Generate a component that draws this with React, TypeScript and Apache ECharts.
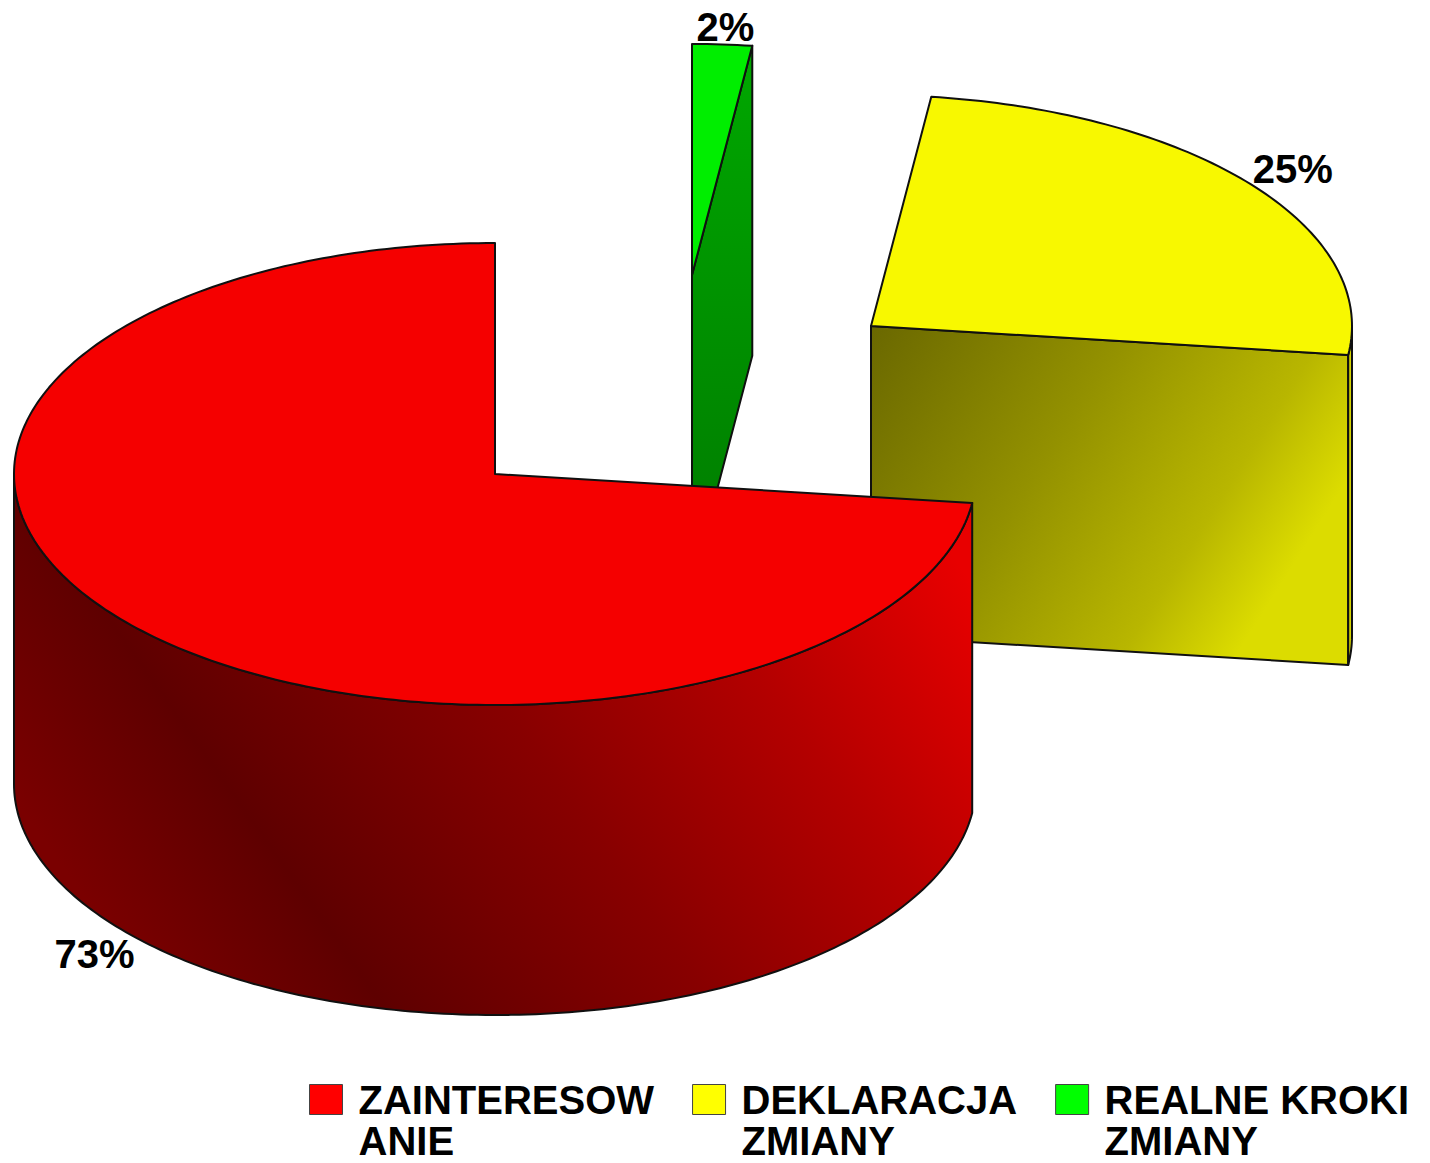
import React, { useEffect, useRef } from 'react';
import * as echarts from 'echarts';

// ---- data ----
const categories = ['ZAINTERESOWANIE', 'DEKLARACJA ZMIANY', 'REALNE KROKI ZMIANY'];
const legendLabels = ['ZAINTERESOW\nANIE', 'DEKLARACJA\nZMIANY', 'REALNE KROKI\nZMIANY'];
const values = [73, 25, 2];
const baseColors = ['#ff0000', '#ffff00', '#00ff00'];

// ---- layout / style constants ----
const CX = 495;
const CY = 474;
const RX = 481;
const RY = 231;
const DEPTH = 310;
const EXPLODE: number[][] = [[0, 0], [376, -148], [197, -199]];
const LABEL_K = 1.11;
const LABEL_MIN_Y = 27;
const FONT_FAMILY = '"Liberation Sans", Arial, Helvetica, sans-serif';
const STROKE = '#101010';
const LINE_W = 2;

const faceStyles: any[] = [
  {
    top: '#f50000',
    side: {
      type: 'linear', x: 0, y: 0.6, x2: 1, y2: 0.2,
      colorStops: [
        { offset: 0, color: '#7a0000' },
        { offset: 0.2, color: '#5e0000' },
        { offset: 0.5, color: '#880000' },
        { offset: 0.75, color: '#b40000' },
        { offset: 1, color: '#e80000' },
      ],
    },
    radial: '#b00000',
  },
  {
    top: '#f8f800',
    side: '#d4d400',
    radial: {
      type: 'linear', x: 0, y: 0, x2: 1, y2: 0.45,
      colorStops: [
        { offset: 0, color: '#6a6800' },
        { offset: 0.45, color: '#939100' },
        { offset: 0.8, color: '#b8b600' },
        { offset: 1, color: '#dcdc00' },
      ],
    },
  },
  {
    top: '#00ee00',
    side: '#009000',
    radial: {
      type: 'linear', x: 0, y: 0, x2: 0, y2: 1,
      colorStops: [
        { offset: 0, color: '#00a800' },
        { offset: 1, color: '#007a00' },
      ],
    },
  },
];

const rad = (d: number) => (d * Math.PI) / 180;

function makeRenderItem(i: number) {
  return (params: any, api: any) => {
    const total = values.reduce((a, b) => a + b, 0);
    let cum = 0;
    for (let k = 0; k < i; k++) cum += values[k];
    const v = api.value(0);
    const a0 = 90 + (cum / total) * 360;
    const a1 = a0 + (v / total) * 360;
    const ax = CX + EXPLODE[i][0];
    const ay = CY + EXPLODE[i][1];
    const P = (deg: number, dy = 0) => [ax + RX * Math.cos(rad(deg)), ay - RY * Math.sin(rad(deg)) + dy];
    const arc = (from: number, to: number, dy = 0) => {
      const n = Math.max(2, Math.ceil(Math.abs(to - from)));
      const pts: number[][] = [];
      for (let j = 0; j <= n; j++) pts.push(P(from + ((to - from) * j) / n, dy));
      return pts;
    };
    const st = faceStyles[i];
    const lineStyle = { stroke: STROKE, lineWidth: LINE_W, lineJoin: 'round' };
    const children: any[] = [];

    // radial face at start / end angle (only when facing viewer)
    if (Math.cos(rad(a0)) > 1e-3) {
      const p = P(a0);
      children.push({
        type: 'polygon',
        shape: { points: [[ax, ay], p, [p[0], p[1] + DEPTH], [ax, ay + DEPTH]] },
        style: { fill: st.radial, ...lineStyle },
      });
    }
    if (Math.cos(rad(a1)) < -1e-3) {
      const p = P(a1);
      children.push({
        type: 'polygon',
        shape: { points: [[ax, ay], p, [p[0], p[1] + DEPTH], [ax, ay + DEPTH]] },
        style: { fill: st.radial, ...lineStyle },
      });
    }
    // outer curved side (front half only)
    for (const k of [0, 360]) {
      const b0 = Math.max(a0, 180 + k);
      const b1 = Math.min(a1, 360 + k);
      if (b1 > b0 + 1e-6) {
        children.push({
          type: 'polygon',
          shape: { points: [...arc(b0, b1), ...arc(b1, b0, DEPTH)] },
          style: { fill: st.side, ...lineStyle },
        });
      }
    }
    // top face
    children.push({
      type: 'polygon',
      shape: { points: [[ax, ay], ...arc(a0, a1)] },
      style: { fill: st.top, ...lineStyle },
    });
    // label
    const mid = (a0 + a1) / 2;
    const front = Math.sin(rad(mid)) < 0;
    const lx = ax + RX * LABEL_K * Math.cos(rad(mid));
    const ly = Math.max(LABEL_MIN_Y, ay - RY * LABEL_K * Math.sin(rad(mid)) + (front ? DEPTH : 0));
    children.push({
      type: 'text',
      z2: 100,
      style: {
        text: Math.round((v / total) * 100) + '%',
        x: lx,
        y: ly,
        fill: '#000',
        fontSize: 40,
        fontWeight: 'bold',
        fontFamily: FONT_FAMILY,
        align: 'center',
        verticalAlign: 'middle',
      },
    });
    return { type: 'group', children };
  };
}

export default function App() {
  const ref = useRef<HTMLDivElement>(null);
  useEffect(() => {
    if (!ref.current) return;
    const chart = echarts.init(ref.current, null, { renderer: 'svg' });
    const order = [2, 1, 0]; // back to front
    const series = order.map((i) => ({
      type: 'custom',
      name: categories[i],
      coordinateSystem: 'none',
      z: 2 + (2 - i),
      itemStyle: { color: baseColors[i] },
      renderItem: makeRenderItem(i),
      data: [{ value: values[i], name: categories[i] }],
      silent: true,
    }));
    chart.setOption({
      animation: false,
      backgroundColor: '#ffffff',
      legend: {
        data: categories,
        left: 309,
        top: 1038,
        padding: 0,
        itemGap: 38,
        itemWidth: 33,
        itemHeight: 30,
        icon: 'rect',
        selectedMode: false,
        // leading empty line puts the first text line level with the icon
        formatter: (name: string) => '\n' + legendLabels[categories.indexOf(name)],
        itemStyle: { borderColor: '#444444', borderWidth: 1 },
        textStyle: {
          fontSize: 40,
          fontWeight: 'bold',
          fontFamily: FONT_FAMILY,
          color: '#000',
          lineHeight: 41,
          padding: [0, 0, 0, 11],
        },
      },
      series,
    });
    return () => chart.dispose();
  }, []);
  return (
    <div
      ref={ref}
      style={{ position: 'absolute', left: 0, top: 0, width: 1430, height: 1163 }}
    />
  );
}
